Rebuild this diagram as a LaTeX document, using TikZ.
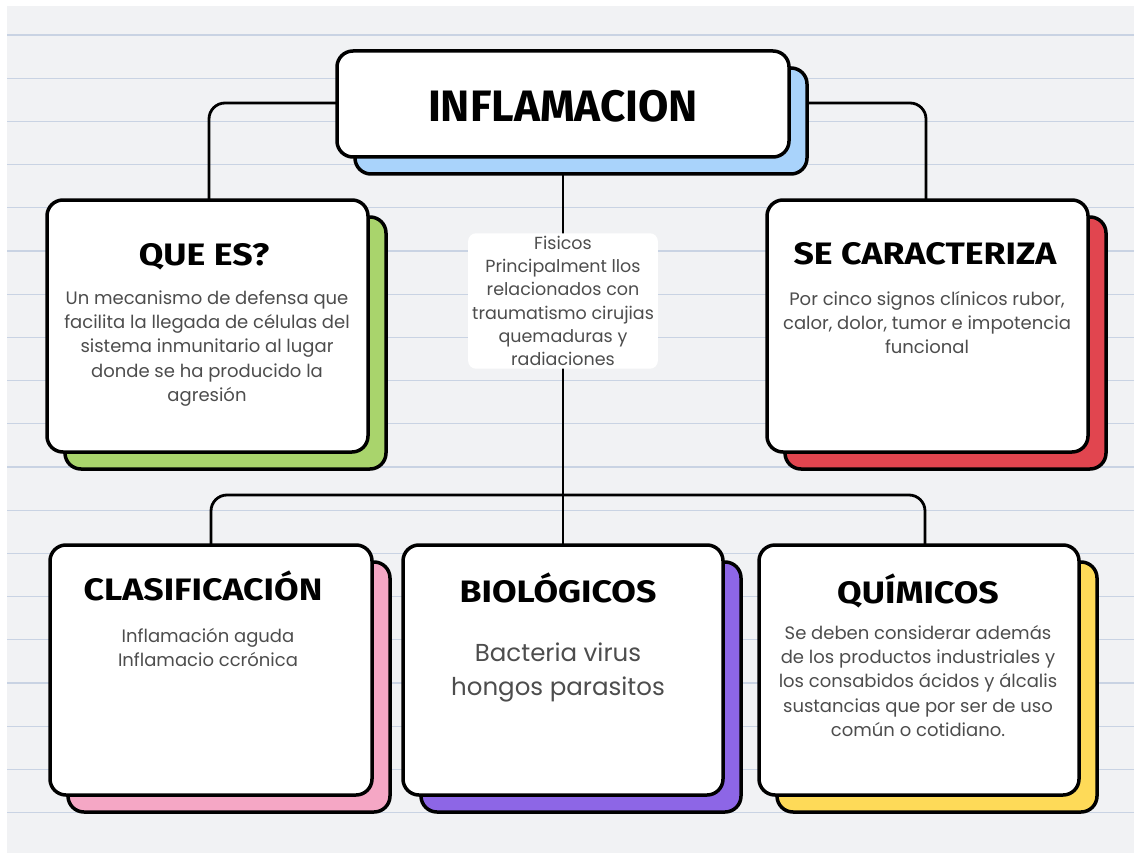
\documentclass[tikz,border=0pt]{standalone}
\usepackage{fontspec}
\setmainfont{Poppins}
\newfontfamily\titlefont{Fira Sans}
\newfontfamily\headfont{Fira Sans}[FakeStretch=1.15]
\definecolor{bg}{HTML}{F1F2F4}
\definecolor{rulec}{HTML}{C9D3E3}
\definecolor{cblue}{HTML}{A9D3FB}
\definecolor{cgreen}{HTML}{A9D46C}
\definecolor{cred}{HTML}{E1454F}
\definecolor{cpink}{HTML}{F5A7C5}
\definecolor{cpurple}{HTML}{8D66E6}
\definecolor{cyellow}{HTML}{FEDA58}
\definecolor{txt}{HTML}{4D4D4D}
\tikzset{
  card/.style={draw=black, line width=3.5pt, rounded corners=16pt, fill=white, inner sep=0pt},
  shadowcard/.style={card, fill=#1},
  conn/.style={draw=black, line width=2.8pt, rounded corners=16pt},
  head/.style={font=\headfont\bfseries\fontsize{31}{31}\selectfont, text=black, inner sep=0pt, anchor=base},
  body/.style={font=\fontsize{18}{24.3}\selectfont, text=txt, align=center, inner sep=0pt},
}
\begin{document}
\begin{tikzpicture}[x=1pt,y=-1pt]
\useasboundingbox (0,0) rectangle (1134,853);
\fill[white] (0,0) rectangle (1134,853);
\fill[bg] (7,6) rectangle (1134,853);
\foreach \k in {0,...,18}{
  \draw[rulec, line width=1.3pt] (7,{35+43.2*\k}) -- (1134,{35+43.2*\k});
}
% connectors (drawn first, covered by cards)
\coordinate (fork) at (563,495);
\coordinate (tl) at (337,103);
\coordinate (tr) at (807,103);
\coordinate (tb) at (563,150);
\coordinate (ql) at (209,205);
\coordinate (sr) at (926,205);
\coordinate (cl) at (211,550);
\coordinate (qr) at (925,550);
\coordinate (bt) at (563,550);
\draw[conn] (tl) -| (ql);
\draw[conn] (tr) -| (sr);
\draw[conn] (tb) -- (bt);
\draw[conn] (fork) -| (cl);
\draw[conn] (fork) -| (qr);
% shadows
\node[shadowcard=cblue, minimum width=452pt, minimum height=106pt] (titleS) at (581,121) {};
\node[shadowcard=cgreen, minimum width=321pt, minimum height=252pt] (queesS) at (225.5,343) {};
\node[shadowcard=cred, minimum width=321pt, minimum height=252pt] (secarS) at (945.5,343) {};
\node[shadowcard=cpink, minimum width=322pt, minimum height=250pt] (clasS) at (229,687) {};
\node[shadowcard=cpurple, minimum width=320pt, minimum height=250pt] (bioS) at (581,687) {};
\node[shadowcard=cyellow, minimum width=320pt, minimum height=250pt] (quiS) at (937,687) {};
% cards
\node[card, minimum width=452pt, minimum height=106pt] (title) at (563,104) {};
\node[card, minimum width=321pt, minimum height=252pt] (quees) at (207.5,326) {};
\node[card, minimum width=321pt, minimum height=252pt] (secar) at (927.5,326) {};
\node[card, minimum width=322pt, minimum height=250pt] (clas) at (211,670) {};
\node[card, minimum width=320pt, minimum height=250pt] (bio) at (563,670) {};
\node[card, minimum width=320pt, minimum height=250pt] (qui) at (919,670) {};
% middle label
\node[body, fill=white, rounded corners=8pt, inner xsep=4pt, inner ysep=3pt, font=\fontsize{17.5}{23.2}\selectfont] (fis) at (563,301)
  {Fisicos\\Principalment llos\\relacionados con\\traumatismo cirujias\\quemaduras y\\radiaciones};
% headings
\node[head, font=\titlefont\bfseries\fontsize{44}{44}\selectfont] (titleT) at (563,122) {INFLAMACION};
\node[head] (queesT) at (204,265) {QUE ES?};
\node[head] (secarT) at (925,264) {SE CARACTERIZA};
\node[head] (clasT) at (203,600) {CLASIFICACIÓN};
\node[head] (bioT) at (558,602) {BIOLÓGICOS};
\node[head] (quiT) at (918,603) {QUÍMICOS};
% bodies
\node[body] (queesB) at (207,348.5) {Un mecanismo de defensa que\\facilita la llegada de células del\\sistema inmunitario al lugar\\donde se ha producido la\\agresión};
\node[body] (secarB) at (927,322.5) {Por cinco signos clínicos rubor,\\calor, dolor, tumor e impotencia\\funcional};
\node[body] (clasB) at (208,647.5) {Inflamación aguda\\Inflamacio ccrónica};
\node[body, font=\fontsize{24.5}{34}\selectfont] (bioB) at (558,672) {Bacteria virus\\hongos parasitos};
\node[body] (quiB) at (918,681) {Se deben considerar además\\de los productos industriales y\\los consabidos ácidos y álcalis\\sustancias que por ser de uso\\común o cotidiano.};
\end{tikzpicture}
\end{document}
